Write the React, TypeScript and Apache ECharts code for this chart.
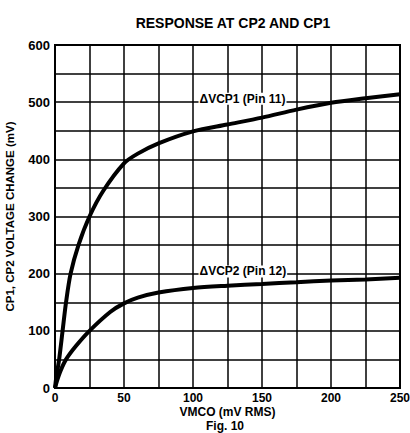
import React, { useEffect, useRef } from "react";
import * as echarts from "echarts";

const titleText = "RESPONSE AT CP2 AND CP1";
const xAxisName = "VMCO (mV RMS)";
const yAxisName = "CP1, CP2 VOLTAGE CHANGE (mV)";
const figText = "Fig. 10";

const vcp1Label = "\u0394VCP1 (Pin 11)";
const vcp2Label = "\u0394VCP2 (Pin 12)";

const vcp1X = [0, 1, 3, 5.5, 8, 11.3, 17, 25, 35, 50, 60, 75, 100, 125, 150, 175, 200, 225, 250];
const vcp1Y = [0, 20, 50, 100, 150, 200, 250, 300, 345, 393, 410, 428, 449, 461, 473, 487, 499, 507, 514];

const vcp2X = [0, 1.5, 4, 8, 15, 25, 40, 50, 60, 75, 100, 125, 150, 175, 200, 225, 250];
const vcp2Y = [0, 13, 30, 50, 73, 100, 133, 148, 158, 167, 175, 179, 182, 185, 188, 190, 193];

const vcp1LabelAt = [104, 506];
const vcp2LabelAt = [104, 204];

const FONT = "'Liberation Sans', Arial, sans-serif";

export default function App() {
  const ref = useRef<HTMLDivElement>(null);
  useEffect(() => {
    if (!ref.current) return;
    const chart = echarts.init(ref.current, null, { renderer: "svg" });
    const pair = (xs: number[], ys: number[]) => xs.map((x, i) => [x, ys[i]]);
    const labelPoint = (coord: number[], text: string) => ({
      coord,
      symbol: "rect",
      symbolSize: 0,
      label: {
        show: true,
        position: "right",
        distance: 0,
        formatter: text,
        color: "#000",
        fontFamily: FONT,
        fontWeight: "bold",
        fontSize: 12,
        backgroundColor: "#fff",
        padding: [0, 1, 0, 1],
      },
    });
    chart.setOption({
      animation: false,
      backgroundColor: "#fff",
      title: {
        text: titleText,
        left: 228,
        top: 11,
        textAlign: "center",
        textStyle: { fontFamily: FONT, fontWeight: "bold", fontSize: 14, color: "#000" },
      },
      graphic: [
        {
          type: "text",
          left: 228 - 22,
          top: 420,
          style: {
            text: figText,
            fontFamily: FONT,
            fontWeight: "bold",
            fontSize: 12,
            lineHeight: 12,
            fill: "#000",
          },
        },
      ],
      grid: {
        left: 55,
        right: 10,
        top: 45,
        bottom: 45,
        show: true,
        borderColor: "#000",
        borderWidth: 2,
        outerBoundsMode: "none",
        containLabel: false,
      },
      xAxis: {
        type: "value",
        min: 0,
        max: 250,
        interval: 25,
        name: xAxisName,
        nameLocation: "middle",
        nameGap: 18,
        nameMoveOverlap: false,
        nameTextStyle: {
          fontFamily: FONT,
          fontWeight: "bold",
          fontSize: 12,
          lineHeight: 12,
          color: "#000",
        },
        axisLine: { show: false },
        axisTick: { show: false },
        axisLabel: {
          margin: 4,
          fontFamily: FONT,
          fontWeight: "bold",
          fontSize: 12,
          lineHeight: 12,
          color: "#000",
          formatter: (v: number) => (v % 50 === 0 ? String(v) : ""),
        },
        splitLine: { show: true, lineStyle: { color: "#000", width: 1.5 } },
      },
      yAxis: {
        type: "value",
        min: 0,
        max: 600,
        interval: 50,
        name: yAxisName,
        nameLocation: "middle",
        nameGap: 39,
        nameMoveOverlap: false,
        nameTextStyle: { fontFamily: FONT, fontWeight: "bold", fontSize: 11.5, color: "#000" },
        axisLine: { show: false },
        axisTick: { show: false },
        axisLabel: {
          margin: 5,
          fontFamily: FONT,
          fontWeight: "bold",
          fontSize: 13,
          color: "#000",
          formatter: (v: number) => (v % 100 === 0 ? String(v) : ""),
        },
        splitLine: { show: true, lineStyle: { color: "#000", width: 1.5 } },
      },
      series: [
        {
          type: "line",
          name: vcp1Label,
          data: pair(vcp1X, vcp1Y),
          showSymbol: false,
          smooth: 0.3,
          lineStyle: { color: "#000", width: 4 },
          markPoint: { data: [labelPoint(vcp1LabelAt, vcp1Label)] },
          z: 3,
        },
        {
          type: "line",
          name: vcp2Label,
          data: pair(vcp2X, vcp2Y),
          showSymbol: false,
          smooth: 0.3,
          lineStyle: { color: "#000", width: 4 },
          markPoint: { data: [labelPoint(vcp2LabelAt, vcp2Label)] },
          z: 3,
        },
      ],
    });
    return () => chart.dispose();
  }, []);
  return (
    <div
      ref={ref}
      style={{ position: "absolute", left: 0, top: 0, width: 410, height: 433 }}
    />
  );
}
